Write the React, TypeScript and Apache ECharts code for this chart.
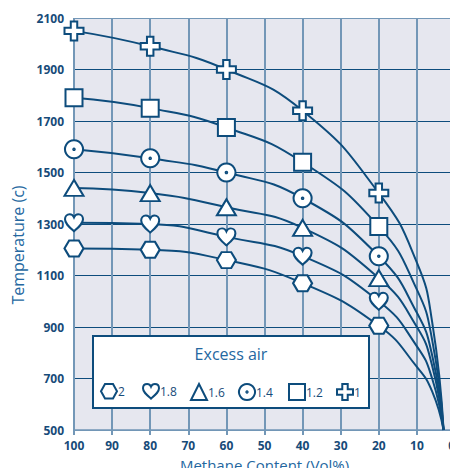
import React, { useEffect, useRef } from "react";
import * as echarts from "echarts";

const methane = [100, 80, 60, 40, 20, 10, 6, 3];
const markedCount = 5;
const excessAir = ["2", "1.8", "1.6", "1.4", "1.2", "1"];
const temp20 = [1205, 1200, 1160, 1070, 905, 745, 650, 500];
const temp18 = [1305, 1300, 1250, 1175, 1000, 825, 700, 500];
const temp16 = [1440, 1420, 1365, 1285, 1090, 900, 750, 500];
const temp14 = [1590, 1555, 1500, 1400, 1175, 955, 790, 500];
const temp12 = [1790, 1750, 1675, 1540, 1290, 1045, 850, 500];
const temp10 = [2050, 1990, 1900, 1740, 1420, 1150, 920, 500];
const tempMin = 500;
const tempMax = 2100;
const tempStep = 200;

const DARK = "#0d4c7c";
const LIGHT = "#7397b7";
const LABEL = "#174b79";
const NAME = "#2467a0";

const HEX = "path://M0,50L25,5L75,5L100,50L75,95L25,95Z";
const HEART =
  "path://M50,92C22,68 2,52 2,30C2,14 13,4 27,4C38,4 46,11 50,20C54,11 62,4 73,4C87,4 98,14 98,30C98,52 78,68 50,92Z";
const DOTCIRCLE =
  "path://M50,3A47,47 0 1,1 49.99,3ZM50,46A4,4 0 1,1 49.99,46Z";
const CROSS =
  "path://M33,0L67,0L67,33L100,33L100,67L67,67L67,100L33,100L33,67L0,67L0,33L33,33Z";

const seriesDefs = [
  { name: excessAir[0], data: temp20, symbol: HEX, size: [19, 16], legendLeft: 100 },
  { name: excessAir[1], data: temp18, symbol: HEART, size: [18, 17], legendLeft: 142 },
  { name: excessAir[2], data: temp16, symbol: "triangle", size: [19, 16], legendLeft: 190 },
  { name: excessAir[3], data: temp14, symbol: DOTCIRCLE, size: [18, 18], legendLeft: 238 },
  { name: excessAir[4], data: temp12, symbol: "rect", size: [17, 17], legendLeft: 288 },
  { name: excessAir[5], data: temp10, symbol: CROSS, size: [19, 19], legendLeft: 336 },
];

export default function App() {
  const ref = useRef<HTMLDivElement>(null);
  useEffect(() => {
    if (!ref.current) return;
    const chart = echarts.init(ref.current, undefined, { renderer: "svg" });
    const font = "'Open Sans', 'Noto Sans', sans-serif";
    const hSplitColors = [LIGHT];
    for (let v = tempMin + tempStep; v < tempMax; v += tempStep) hSplitColors.push(DARK);
    hSplitColors.push(LIGHT);

    const series = seriesDefs.map((s) => ({
      type: "line",
      name: s.name,
      smooth: 0.5,
      symbol: s.symbol,
      symbolSize: s.size,
      showAllSymbol: true,
      clip: true,
      lineStyle: { color: DARK, width: 2 },
      itemStyle: { color: "#ffffff", borderColor: DARK, borderWidth: 2 },
      z: 3,
      data: methane.map((m, i) => ({
        value: [m, s.data[i] - tempMin],
        symbol: i < markedCount ? s.symbol : "none",
      })),
    }));

    const legends = seriesDefs.map((s) => ({
      show: true,
      left: s.legendLeft,
      top: 383,
      itemWidth: 16,
      itemHeight: 16,
      padding: 0,
      z: 10,
      selectedMode: false,
      data: [{ name: s.name, icon: s.symbol }],
      itemStyle: { color: "#ffffff", borderColor: DARK, borderWidth: 2 },
      lineStyle: { opacity: 0 },
      textStyle: {
        color: LABEL,
        fontSize: 12,
        fontFamily: font,
        padding: [0, 0, 0, -4],
      },
    }));

    chart.setOption({
      animation: false,
      backgroundColor: "#ffffff",
      grid: {
        left: 74,
        right: 3,
        top: 18,
        bottom: 46,
        show: true,
        backgroundColor: "#e6e7ef",
        borderWidth: 0,
        outerBoundsMode: "none",
        containLabel: false,
      },
      xAxis: {
        type: "value",
        inverse: true,
        min: 0,
        max: 100,
        interval: 10,
        name: "Methane Content (Vol%)",
        nameLocation: "middle",
        nameGap: 27,
        nameTextStyle: { color: NAME, fontSize: 15, fontFamily: font },
        axisLine: { show: true, lineStyle: { color: LIGHT, width: 1.5 } },
        axisTick: { show: true, length: 5, lineStyle: { color: LIGHT, width: 2 } },
        axisLabel: {
          color: LABEL,
          fontSize: 12,
          fontWeight: "bold",
          fontFamily: font,
          margin: 9,
          hideOverlap: false,
          showMinLabel: true,
          showMaxLabel: true,
          alignMinLabel: "right",
        },
        splitLine: { show: true, lineStyle: { color: LIGHT, width: 2 } },
      },
      yAxis: {
        type: "value",
        min: 0,
        max: tempMax - tempMin,
        interval: tempStep,
        axisLine: { show: true, lineStyle: { color: LIGHT, width: 2 } },
        axisTick: { show: true, length: 4, lineStyle: { color: DARK, width: 1.2 } },
        axisLabel: {
          color: LABEL,
          fontSize: 12,
          fontWeight: "bold",
          fontFamily: font,
          margin: 10,
          formatter: (v: number) => String(v + tempMin),
        },
        splitLine: { show: true, lineStyle: { color: hSplitColors, width: 1.2 } },
      },
      legend: legends,
      graphic: [
        {
          type: "text",
          x: 18,
          y: 245,
          rotation: Math.PI / 2,
          style: {
            text: "Temperature (c)",
            fill: NAME,
            font: `16px ${font}`,
            align: "center",
            verticalAlign: "middle",
          },
        },
        {
          type: "rect",
          z: 5,
          shape: { x: 93, y: 336, width: 276, height: 72 },
          style: { fill: "#ffffff", stroke: DARK, lineWidth: 2 },
        },
        {
          type: "text",
          z: 6,
          x: 231,
          y: 354,
          style: {
            text: "Excess air",
            fill: NAME,
            font: `16px ${font}`,
            align: "center",
            verticalAlign: "middle",
          },
        },
      ],
      series,
    });
    return () => chart.dispose();
  }, []);
  return <div ref={ref} style={{ width: 458, height: 476, margin: -8 }} />;
}
